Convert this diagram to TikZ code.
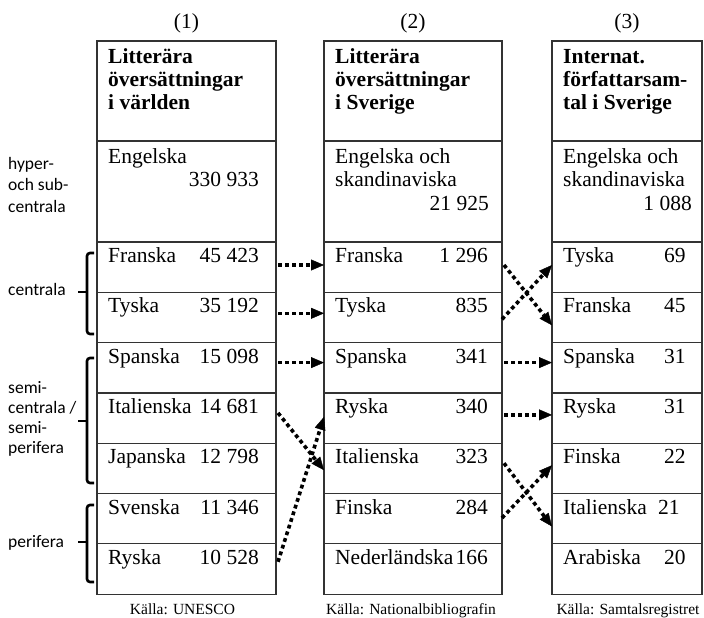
\documentclass[tikz,border=0pt]{standalone}
\usepackage{fontspec}
\setmainfont{Liberation Serif}
\newfontfamily\labfont{Carlito}
\usetikzlibrary{arrows.meta,calc}
\tikzset{
  cell/.style={draw=black!80, line width=1.2pt, inner sep=0pt, outer sep=0pt, anchor=north west, minimum height=50.3pt},
  txt/.style={inner sep=0pt, anchor=base west, font=\fontsize{21.5}{23.5}\selectfont, text=black},
  num/.style={inner sep=0pt, anchor=base east, font=\fontsize{21.5}{23.5}\selectfont, text=black},
  hd/.style={txt, font=\fontsize{21.5}{23.5}\selectfont\bfseries},
  colnum/.style={inner sep=0pt, anchor=base, font=\fontsize{21.5}{23.5}\selectfont, text=black},
  src/.style={inner sep=0pt, anchor=base, font=\fontsize{15.5}{17}\selectfont, text=black},
  lab/.style={inner sep=0pt, anchor=base west, font=\labfont\fontsize{17.5}{20}\selectfont, text=black},
  brk/.style={draw=black, line width=2.6pt, rounded corners=3pt},
  arr/.style={draw=black, line width=3.6pt, dash pattern=on 3.8pt off 3.2pt,
    -{Triangle[length=13pt,width=11pt,line width=0.4pt]}},
}
\begin{document}
\begin{tikzpicture}[x=1pt,y=-1pt]
\fill[white] (0,0) rectangle (704,618);
\useasboundingbox (0,0) rectangle (704,618);

% column numbers
\node[colnum] (k1) at (186.5,29) {(1)};
\node[colnum] (k2) at (413,29) {(2)};
\node[colnum] (k3) at (627,29) {(3)};

% ---------- column 1 ----------
\node[cell, minimum width=179pt, minimum height=100pt] (h1) at (97,41) {};
\node[cell, minimum width=179pt, minimum height=101pt] (e1) at (97,141) {};
\foreach \i in {0,...,6} \node[cell, minimum width=179pt] (c1r\i) at (97,{242+50.3*\i}) {};
\node[hd] (h1a) at ($(h1.north west)+(11,22.3)$) {Litterära};
\node[hd] (h1b) at ($(h1.north west)+(11,45.6)$) {översättningar};
\node[hd] (h1c) at ($(h1.north west)+(11,68.9)$) {i världen};
\node[txt] (e1a) at ($(e1.north west)+(11,22)$) {Engelska};
\node[num] (e1n) at ($(e1.north east)+(-17,45.5)$) {330 933};
\foreach \i/\nm/\nu in {0/Franska/45 423,1/Tyska/35 192,2/Spanska/15 098,3/Italienska/14 681,4/Japanska/12 798,5/Svenska/11 346,6/Ryska/10 528}{
  \node[txt] (n1\i) at ($(c1r\i.north west)+(11,20.5)$) {\nm};
  \node[num] (v1\i) at ($(c1r\i.north east)+(-17,20.5)$) {\nu};
}
\node[src] (s1) at (182.5,614) {Källa: UNESCO};

% ---------- column 2 ----------
\node[cell, minimum width=178pt, minimum height=100pt] (h2) at (324,41) {};
\node[cell, minimum width=178pt, minimum height=101pt] (e2) at (324,141) {};
\foreach \i in {0,...,6} \node[cell, minimum width=178pt] (c2r\i) at (324,{242+50.3*\i}) {};
\node[hd] (h2a) at ($(h2.north west)+(11,22.3)$) {Litterära};
\node[hd] (h2b) at ($(h2.north west)+(11,45.6)$) {översättningar};
\node[hd] (h2c) at ($(h2.north west)+(11,68.9)$) {i Sverige};
\node[txt] (e2a) at ($(e2.north west)+(11,22)$) {Engelska och};
\node[txt] (e2b) at ($(e2.north west)+(11,45.5)$) {skandinaviska};
\node[num] (e2n) at ($(e2.north east)+(-13,69)$) {21 925};
\foreach \i/\nm/\nu in {0/Franska/1 296,1/Tyska/835,2/Spanska/341,3/Ryska/340,4/Italienska/323,5/Finska/284,6/Nederländska/166}{
  \node[txt] (n2\i) at ($(c2r\i.north west)+(11,20.5)$) {\nm};
  \node[num] (v2\i) at ($(c2r\i.north east)+(-14,20.5)$) {\nu};
}
\node[src] (s2) at (411,614) {Källa: Nationalbibliografin};

% ---------- column 3 ----------
\node[cell, minimum width=150pt, minimum height=100pt] (h3) at (552,41) {};
\node[cell, minimum width=150pt, minimum height=101pt] (e3) at (552,141) {};
\foreach \i in {0,...,6} \node[cell, minimum width=150pt] (c3r\i) at (552,{242+50.3*\i}) {};
\node[hd] (h3a) at ($(h3.north west)+(11,22.3)$) {Internat.};
\node[hd] (h3b) at ($(h3.north west)+(11,45.6)$) {författarsam-};
\node[hd] (h3c) at ($(h3.north west)+(11,68.9)$) {tal i Sverige};
\node[txt] (e3a) at ($(e3.north west)+(11,22)$) {Engelska och};
\node[txt] (e3b) at ($(e3.north west)+(11,45.5)$) {skandinaviska};
\node[num] (e3n) at ($(e3.north east)+(-10,69)$) {1 088};
\foreach \i/\nm/\nu/\dx in {0/Tyska/69/112,1/Franska/45/112,2/Spanska/31/112,3/Ryska/31/112,4/Finska/22/112,5/Italienska/21/106,6/Arabiska/20/112}{
  \node[txt] (n3\i) at ($(c3r\i.north west)+(11,20.5)$) {\nm};
  \node[txt] (v3\i) at ($(c3r\i.north west)+(\dx,20.5)$) {\nu};
}
\node[src] (s3) at (628,614) {Källa: Samtalsregistret};

% ---------- left labels and brackets ----------
\node[lab] (l1a) at (8,169) {hyper-};
\node[lab] (l1b) at (8,190.5) {och sub-};
\node[lab] (l1c) at (8,212) {centrala};
\node[lab] (l2) at (8,295) {centrala};
\node[lab] (l3a) at (8,393) {semi-};
\node[lab] (l3b) at (8,413) {centrala /};
\node[lab] (l3c) at (8,433) {semi-};
\node[lab] (l3d) at (8,453) {perifera};
\node[lab] (l4) at (8,547) {perifera};

\draw[brk] (94,253) -- (87,253) -- (87,334) -- (94,334);
\draw[brk] (87,292) -- (78,292);
\draw[brk] (94,358) -- (87,358) -- (87,483) -- (94,483);
\draw[brk] (87,421) -- (78,421);
\draw[brk] (94,505) -- (87,505) -- (87,582) -- (94,582);
\draw[brk] (87,542) -- (78,542);

% ---------- arrows col1 -> col2 ----------
\draw[arr] ($(c1r0.north east)+(2,23)$) -- ($(c2r0.north west)+(0,23)$);
\draw[arr] ($(c1r1.north east)+(2,21)$) -- ($(c2r1.north west)+(0,21)$);
\draw[arr] ($(c1r2.north east)+(2,20)$) -- ($(c2r2.north west)+(0,20)$);
\draw[arr] ($(c1r3.north east)+(2,20)$) -- ($(c2r4.north west)+(0,27)$);
\draw[arr] ($(c1r6.north east)+(2,18)$) -- ($(c2r3.north west)+(0,24)$);

% ---------- arrows col2 -> col3 ----------
\draw[arr] ($(c2r0.north east)+(2,23)$) -- ($(c3r1.north west)+(0,33)$);
\draw[arr] ($(c2r1.north east)+(0,27)$) -- ($(c3r0.north west)+(0,23)$);
\draw[arr] ($(c2r2.north east)+(2,20)$) -- ($(c3r2.north west)+(0,20)$);
\draw[arr] ($(c2r3.north east)+(2,22)$) -- ($(c3r3.north west)+(0,22)$);
\draw[arr] ($(c2r4.north east)+(2,20)$) -- ($(c3r5.north west)+(0,33)$);
\draw[arr] ($(c2r5.north east)+(0,24.5)$) -- ($(c3r4.north west)+(0,22)$);
\end{tikzpicture}
\end{document}
